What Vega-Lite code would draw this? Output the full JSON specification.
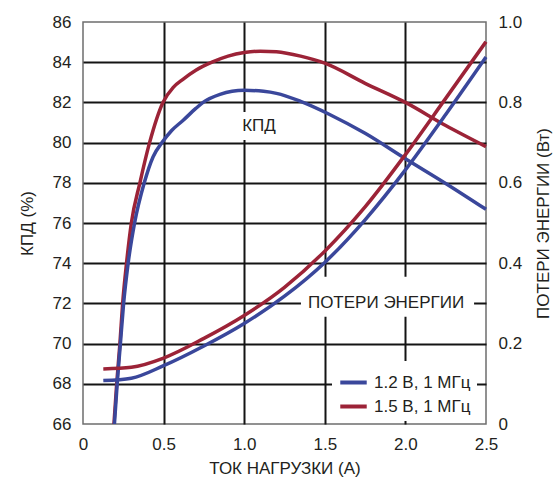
{
  "$schema": "https://vega.github.io/schema/vega-lite/v6.json",
  "width": 403,
  "height": 402,
  "autosize": {"type": "none"},
  "padding": {"left": 83, "top": 22, "right": 70, "bottom": 60},
  "background": "white",
  "config": {
    "font": "Liberation Sans",
    "view": {"stroke": "#6e6e6e", "strokeWidth": 1.5},
    "axis": {
      "labelFont": "Liberation Sans",
      "titleFont": "Liberation Sans",
      "labelFontSize": 17,
      "titleFontSize": 17,
      "titleFontWeight": "normal",
      "labelColor": "#231f20",
      "titleColor": "#231f20",
      "ticks": false,
      "tickSize": 0,
      "domain": false,
      "labelFlush": false,
      "labelOverlap": false
    },
    "legend": {
      "labelFont": "Liberation Sans",
      "labelFontSize": 17,
      "labelColor": "#231f20"
    }
  },
  "datasets": {
    "curves": [
      {"series": "1.5 В, 1 МГц", "kind": "eff", "x": 0.192, "y": 66},
      {"series": "1.5 В, 1 МГц", "kind": "eff", "x": 0.209, "y": 68},
      {"series": "1.5 В, 1 МГц", "kind": "eff", "x": 0.229, "y": 70},
      {"series": "1.5 В, 1 МГц", "kind": "eff", "x": 0.246, "y": 72},
      {"series": "1.5 В, 1 МГц", "kind": "eff", "x": 0.27, "y": 74},
      {"series": "1.5 В, 1 МГц", "kind": "eff", "x": 0.3, "y": 76},
      {"series": "1.5 В, 1 МГц", "kind": "eff", "x": 0.353, "y": 78},
      {"series": "1.5 В, 1 МГц", "kind": "eff", "x": 0.413, "y": 80},
      {"series": "1.5 В, 1 МГц", "kind": "eff", "x": 0.496, "y": 82},
      {"series": "1.5 В, 1 МГц", "kind": "eff", "x": 0.56, "y": 82.75},
      {"series": "1.5 В, 1 МГц", "kind": "eff", "x": 0.62, "y": 83.15},
      {"series": "1.5 В, 1 МГц", "kind": "eff", "x": 0.7, "y": 83.6},
      {"series": "1.5 В, 1 МГц", "kind": "eff", "x": 0.8, "y": 84.0},
      {"series": "1.5 В, 1 МГц", "kind": "eff", "x": 0.9, "y": 84.3},
      {"series": "1.5 В, 1 МГц", "kind": "eff", "x": 1.0, "y": 84.48},
      {"series": "1.5 В, 1 МГц", "kind": "eff", "x": 1.1, "y": 84.55},
      {"series": "1.5 В, 1 МГц", "kind": "eff", "x": 1.2, "y": 84.52},
      {"series": "1.5 В, 1 МГц", "kind": "eff", "x": 1.35, "y": 84.3},
      {"series": "1.5 В, 1 МГц", "kind": "eff", "x": 1.5, "y": 83.95},
      {"series": "1.5 В, 1 МГц", "kind": "eff", "x": 1.75, "y": 82.95},
      {"series": "1.5 В, 1 МГц", "kind": "eff", "x": 2.0, "y": 82.0},
      {"series": "1.5 В, 1 МГц", "kind": "eff", "x": 2.25, "y": 80.85},
      {"series": "1.5 В, 1 МГц", "kind": "eff", "x": 2.5, "y": 79.8},
      {"series": "1.2 В, 1 МГц", "kind": "eff", "x": 0.195, "y": 66},
      {"series": "1.2 В, 1 МГц", "kind": "eff", "x": 0.212, "y": 68},
      {"series": "1.2 В, 1 МГц", "kind": "eff", "x": 0.232, "y": 70},
      {"series": "1.2 В, 1 МГц", "kind": "eff", "x": 0.252, "y": 72},
      {"series": "1.2 В, 1 МГц", "kind": "eff", "x": 0.28, "y": 74},
      {"series": "1.2 В, 1 МГц", "kind": "eff", "x": 0.32, "y": 76},
      {"series": "1.2 В, 1 МГц", "kind": "eff", "x": 0.38, "y": 78},
      {"series": "1.2 В, 1 МГц", "kind": "eff", "x": 0.435, "y": 79.3},
      {"series": "1.2 В, 1 МГц", "kind": "eff", "x": 0.49, "y": 80},
      {"series": "1.2 В, 1 МГц", "kind": "eff", "x": 0.55, "y": 80.6},
      {"series": "1.2 В, 1 МГц", "kind": "eff", "x": 0.62, "y": 81.1},
      {"series": "1.2 В, 1 МГц", "kind": "eff", "x": 0.7, "y": 81.7},
      {"series": "1.2 В, 1 МГц", "kind": "eff", "x": 0.745, "y": 82.0},
      {"series": "1.2 В, 1 МГц", "kind": "eff", "x": 0.85, "y": 82.4},
      {"series": "1.2 В, 1 МГц", "kind": "eff", "x": 1.0, "y": 82.6},
      {"series": "1.2 В, 1 МГц", "kind": "eff", "x": 1.12, "y": 82.55},
      {"series": "1.2 В, 1 МГц", "kind": "eff", "x": 1.2, "y": 82.45},
      {"series": "1.2 В, 1 МГц", "kind": "eff", "x": 1.35, "y": 82.05},
      {"series": "1.2 В, 1 МГц", "kind": "eff", "x": 1.53, "y": 81.4},
      {"series": "1.2 В, 1 МГц", "kind": "eff", "x": 1.75, "y": 80.46},
      {"series": "1.2 В, 1 МГц", "kind": "eff", "x": 2.0, "y": 79.2},
      {"series": "1.2 В, 1 МГц", "kind": "eff", "x": 2.25, "y": 77.97},
      {"series": "1.2 В, 1 МГц", "kind": "eff", "x": 2.5, "y": 76.68},
      {"series": "1.5 В, 1 МГц", "kind": "loss", "x": 0.126, "y": 0.137},
      {"series": "1.5 В, 1 МГц", "kind": "loss", "x": 0.3, "y": 0.141},
      {"series": "1.5 В, 1 МГц", "kind": "loss", "x": 0.5, "y": 0.164},
      {"series": "1.5 В, 1 МГц", "kind": "loss", "x": 0.75, "y": 0.213},
      {"series": "1.5 В, 1 МГц", "kind": "loss", "x": 1.0, "y": 0.27},
      {"series": "1.5 В, 1 МГц", "kind": "loss", "x": 1.25, "y": 0.34},
      {"series": "1.5 В, 1 МГц", "kind": "loss", "x": 1.5, "y": 0.43},
      {"series": "1.5 В, 1 МГц", "kind": "loss", "x": 1.75, "y": 0.54},
      {"series": "1.5 В, 1 МГц", "kind": "loss", "x": 2.0, "y": 0.67},
      {"series": "1.5 В, 1 МГц", "kind": "loss", "x": 2.25, "y": 0.81},
      {"series": "1.5 В, 1 МГц", "kind": "loss", "x": 2.5, "y": 0.951},
      {"series": "1.2 В, 1 МГц", "kind": "loss", "x": 0.126, "y": 0.108},
      {"series": "1.2 В, 1 МГц", "kind": "loss", "x": 0.3, "y": 0.114},
      {"series": "1.2 В, 1 МГц", "kind": "loss", "x": 0.5, "y": 0.145},
      {"series": "1.2 В, 1 МГц", "kind": "loss", "x": 0.75, "y": 0.194},
      {"series": "1.2 В, 1 МГц", "kind": "loss", "x": 1.0, "y": 0.25},
      {"series": "1.2 В, 1 МГц", "kind": "loss", "x": 1.25, "y": 0.318},
      {"series": "1.2 В, 1 МГц", "kind": "loss", "x": 1.5, "y": 0.402},
      {"series": "1.2 В, 1 МГц", "kind": "loss", "x": 1.75, "y": 0.508},
      {"series": "1.2 В, 1 МГц", "kind": "loss", "x": 2.0, "y": 0.632},
      {"series": "1.2 В, 1 МГц", "kind": "loss", "x": 2.25, "y": 0.77},
      {"series": "1.2 В, 1 МГц", "kind": "loss", "x": 2.5, "y": 0.913}
    ],
    "one": [{}]
  },
  "data": {"name": "curves"},
  "resolve": {"scale": {"y": "independent"}, "axis": {"y": "independent"}},
  "layer": [
    {
      "layer": [
        {
          "transform": [{"filter": "datum.kind === 'eff'"}],
          "mark": {"type": "line", "interpolate": "monotone", "strokeWidth": 3.5},
          "encoding": {
            "x": {
              "field": "x", "type": "quantitative",
              "scale": {"domain": [0, 2.5], "nice": false, "zero": false},
              "axis": {
                "values": [0, 0.5, 1, 1.5, 2, 2.5],
                "title": "ТОК НАГРУЗКИ (А)",
                "labelExpr": "datum.value === 0 ? '0' : format(datum.value, '.1f')",
                "grid": true,
                "gridColor": {"condition": {"test": "datum.value === 0 || datum.value === 2.5", "value": "transparent"}, "value": "#141414"},
                "gridWidth": 2,
                "labelPadding": 12,
                "titlePadding": 8
              }
            },
            "y": {
              "field": "y", "type": "quantitative",
              "scale": {"domain": [66, 86], "nice": false, "zero": false},
              "axis": {
                "orient": "left",
                "values": [66, 68, 70, 72, 74, 76, 78, 80, 82, 84, 86],
                "title": "КПД (%)",
                "grid": true,
                "gridColor": {"condition": {"test": "datum.value === 66 || datum.value === 86", "value": "transparent"}, "value": "#141414"},
                "gridWidth": 2,
                "labelPadding": 12,
                "titlePadding": 16
              }
            },
            "color": {
              "field": "series", "type": "nominal",
              "scale": {"domain": ["1.2 В, 1 МГц", "1.5 В, 1 МГц"], "range": ["#3a479b", "#9c2337"]},
              "legend": {
                "title": null,
                "orient": "none",
                "legendX": 249,
                "legendY": 339,
                "fillColor": "white",
                "padding": 6,
                "symbolType": "stroke",
                "symbolStrokeWidth": 4,
                "symbolSize": 700,
                "labelOffset": 5,
                "rowPadding": -4
              }
            }
          }
        },
        {
          "data": {"name": "one"},
          "mark": {"type": "rect", "fill": "white"},
          "encoding": {
            "x": {"datum": 0.974},
            "x2": {"datum": 1.21},
            "y": {"datum": 81.52},
            "y2": {"datum": 80.13}
          }
        },
        {
          "data": {"name": "one"},
          "mark": {"type": "text", "fontSize": 17, "align": "center", "baseline": "middle", "fill": "#231f20"},
          "encoding": {
            "x": {"datum": 1.092},
            "y": {"datum": 80.83},
            "text": {"value": "КПД"}
          }
        }
      ]
    },
    {
      "layer": [
        {
          "data": {"name": "one"},
          "mark": {"type": "rect", "fill": "white"},
          "encoding": {
            "x": {"datum": 1.352},
            "x2": {"datum": 2.426},
            "y": {"datum": 0.3665},
            "y2": {"datum": 0.267}
          }
        },
        {
          "data": {"name": "one"},
          "mark": {"type": "text", "fontSize": 17, "align": "center", "baseline": "middle", "fill": "#231f20"},
          "encoding": {
            "x": {"datum": 1.88},
            "y": {"datum": 0.302},
            "text": {"value": "ПОТЕРИ ЭНЕРГИИ"}
          }
        },
        {
          "transform": [{"filter": "datum.kind === 'loss'"}],
          "mark": {"type": "line", "interpolate": "monotone", "strokeWidth": 3.5},
          "encoding": {
            "x": {"field": "x", "type": "quantitative"},
            "y": {
              "field": "y", "type": "quantitative",
              "scale": {"domain": [0, 1], "nice": false},
              "axis": {
                "orient": "right",
                "values": [0, 0.2, 0.4, 0.6, 0.8, 1.0],
                "labelExpr": "datum.value === 0 ? '0' : format(datum.value, '.1f')",
                "title": "ПОТЕРИ ЭНЕРГИИ (Вт)",
                "titleAngle": 270,
                "titleBaseline": "top",
                "grid": false,
                "labelPadding": 12,
                "titlePadding": 14
              }
            },
            "color": {"field": "series", "type": "nominal"}
          }
        }
      ]
    }
  ]
}
